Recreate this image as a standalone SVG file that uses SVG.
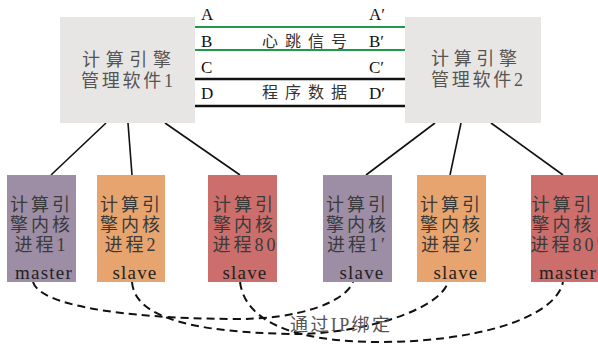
<svg xmlns="http://www.w3.org/2000/svg" width="598" height="347" viewBox="0 0 598 347">
<style>
.t{font-family:"Liberation Serif","Noto Sans CJK SC",serif;}
.mgr{fill:#e8e6e4;}
.mt{font-size:18px;fill:#555;}
.lab{font-size:17px;fill:#111;}
.mid{font-size:16px;fill:#333;}
.pt{font-size:18px;fill:#3a3a3a;text-anchor:middle;letter-spacing:3px;}
.role{font-size:19px;fill:#222;text-anchor:middle;letter-spacing:1.2px;}
.link{stroke:#111;stroke-width:1.6;fill:none;}
.dash{stroke:#111;stroke-width:2;fill:none;stroke-dasharray:8 5;}
.pur{fill:#9d8ea5;}
.org{fill:#e8a46e;}
.red{fill:#cc6e6b;}
</style>
<rect width="598" height="347" fill="#fff"/>
<g id="connectors">
<line x1="195" y1="27" x2="405" y2="27" stroke="#1f9a4a" stroke-width="2"/>
<line x1="195" y1="50" x2="405" y2="50" stroke="#1f9a4a" stroke-width="2"/>
<line x1="195" y1="79" x2="405" y2="79" stroke="#111" stroke-width="2.5"/>
<line x1="195" y1="106" x2="405" y2="106" stroke="#111" stroke-width="2.5"/>
<line class="link" x1="106" y1="123" x2="51" y2="175"/>
<line class="link" x1="128" y1="123" x2="132" y2="175"/>
<line class="link" x1="165" y1="123" x2="240" y2="175"/>
<line class="link" x1="435" y1="123" x2="366" y2="175"/>
<line class="link" x1="461" y1="123" x2="450" y2="175"/>
<line class="link" x1="491" y1="123" x2="563" y2="175"/>
<path class="dash" d="M33,282 C40,305 120,318 230,319 C300,320 345,302 353,282"/>
<path class="dash" d="M132,282 C135,320 200,332 290,334 C360,335 440,310 448,282"/>
<path class="dash" d="M240,282 C245,320 290,342 380,342 C470,342 555,320 563,282"/>
</g>
<g id="labels" class="t">
<text class="lab" x="201" y="20">A</text>
<text class="lab" x="201" y="47">B</text>
<text class="lab" x="201" y="73">C</text>
<text class="lab" x="201" y="99">D</text>
<text class="lab" x="369" y="20">A′</text>
<text class="lab" x="369" y="47">B′</text>
<text class="lab" x="369" y="73">C′</text>
<text class="lab" x="369" y="99">D′</text>
<text class="mid" x="262" y="47" textLength="85" lengthAdjust="spacing">心跳信号</text>
<text class="mid" x="262" y="98" textLength="85" lengthAdjust="spacing">程序数据</text>
<text class="t" x="290" y="331" font-size="18" fill="#555" textLength="100" lengthAdjust="spacing">通过IP绑定</text>
</g>
<g id="mgr1" class="t">
<rect class="mgr" x="60" y="17" width="135" height="106"/>
<text class="mt" x="82" y="66" textLength="89" lengthAdjust="spacing">计算引擎</text>
<text class="mt" x="81" y="87" textLength="92" lengthAdjust="spacing">管理软件1</text>
</g>
<g id="mgr2" class="t">
<rect class="mgr" x="405" y="17" width="136" height="106"/>
<text class="mt" x="431" y="65" textLength="86" lengthAdjust="spacing">计算引擎</text>
<text class="mt" x="431" y="86" textLength="92" lengthAdjust="spacing">管理软件2</text>
</g>
<g id="p1" class="t">
<rect class="pur" x="7" y="175" width="69" height="107"/>
<text class="pt" x="41.5" y="211">计算引</text>
<text class="pt" x="41.5" y="231">擎内核</text>
<text class="pt" x="41.5" y="251">进程1</text>
<text class="role" x="44" y="279">master</text>
</g>
<g id="p2" class="t">
<rect class="org" x="97" y="175" width="68" height="107"/>
<text class="pt" x="131.5" y="211">计算引</text>
<text class="pt" x="131.5" y="231">擎内核</text>
<text class="pt" x="131.5" y="251">进程2</text>
<text class="role" x="135" y="279">slave</text>
</g>
<g id="p80" class="t">
<rect class="red" x="208" y="175" width="69" height="107"/>
<text class="pt" x="244.5" y="211">计算引</text>
<text class="pt" x="244.5" y="231">擎内核</text>
<text class="pt" x="245.5" y="251">进程80</text>
<text class="role" x="245" y="279">slave</text>
</g>
<g id="p1b" class="t">
<rect class="pur" x="323" y="175" width="69" height="107"/>
<text class="pt" x="357.5" y="211">计算引</text>
<text class="pt" x="357.5" y="231">擎内核</text>
<text class="pt" x="357.5" y="251">进程1′</text>
<text class="role" x="362" y="279">slave</text>
</g>
<g id="p2b" class="t">
<rect class="org" x="417" y="175" width="69" height="107"/>
<text class="pt" x="451.5" y="211">计算引</text>
<text class="pt" x="451.5" y="231">擎内核</text>
<text class="pt" x="451.5" y="251">进程2′</text>
<text class="role" x="456" y="279">slave</text>
</g>
<g id="p80b" class="t">
<rect class="red" x="531" y="175" width="69" height="107"/>
<text class="pt" x="563" y="211">计算引</text>
<text class="pt" x="563" y="231">擎内核</text>
<text class="pt" x="567" y="251">进程80′</text>
<text class="role" x="568" y="279">master</text>
</g>
</svg>
